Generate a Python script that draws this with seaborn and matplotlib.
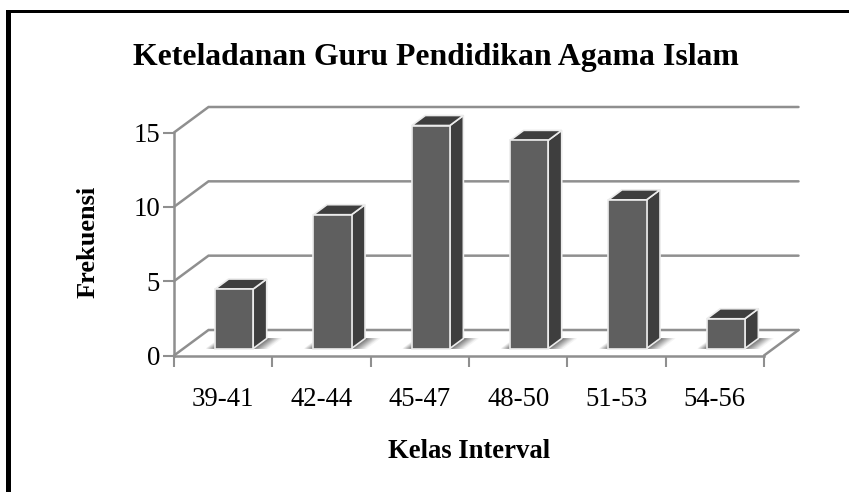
import numpy as np
import matplotlib
matplotlib.use("Agg")
import matplotlib.pyplot as plt
import seaborn as sns
from matplotlib.colors import to_rgb
from matplotlib.patches import Polygon, Rectangle

categories = ["39-41", "42-44", "45-47", "48-50", "51-53", "54-56"]
frequencies = [4, 9, 15, 14, 10, 2]
y_ticks = [0, 5, 10, 15]

W, H = 849, 492
GRID = "#8f8f8f"
FRONT = "#5f5f5f"
DARK = "#3e3e3e"
EDGE = "#ececec"

sns.set_theme(style="white")
plt.rcParams["font.family"] = ["Liberation Serif", "DejaVu Serif"]

fig = plt.figure(figsize=(W / 100, H / 100), dpi=100, facecolor="white")
# front plane of the fake 3d box, in pixels
left, right, top, bottom = 174, 764, 132.5, 355.5
ax = fig.add_axes([left / W, 1 - bottom / H, (right - left) / W, (bottom - top) / H])

sns.barplot(x=categories, y=frequencies, color=FRONT, saturation=1, width=0.387,
            edgecolor=EDGE, linewidth=1.2, ax=ax, zorder=5)
ax.set_xlim(-0.5, 5.5)
ax.set_ylim(0, 15)

# pixel to data units
px = 6 / (right - left)
py = 15 / (bottom - top)
dx, dy = 34.5 * px, 25.5 * py
bar_dx, bar_dy = 13.5 * px, 10 * py
shift_x, shift_y = 11 * px, 7 * py

# walls
for v in y_ticks:
    ax.plot([-0.5, -0.5 + dx, 5.5 + dx], [v, v + dy, v + dy], color=GRID, lw=1.8,
            clip_on=False, zorder=1, solid_joinstyle="miter")
ax.plot([5.5, 5.5 + dx], [0, dy], color=GRID, lw=1.8, clip_on=False, zorder=1)

shadow = np.array(to_rgb("#6a6a6a"))
white = np.ones(3)

# fake depth on each bar, taken from the patches seaborn drew
for bar in ax.patches[:]:
    h = bar.get_height()
    bar.set_x(bar.get_x() + shift_x)
    bar.set_y(shift_y)
    bar.set_clip_on(False)
    x0, x1 = bar.get_x(), bar.get_x() + bar.get_width()
    y0, y1 = shift_y, shift_y + h
    side = [(x1, y0), (x1 + bar_dx, y0 + bar_dy), (x1 + bar_dx, y1 + bar_dy), (x1, y1)]
    cap = [(x0, y1), (x0 + bar_dx, y1 + bar_dy), (x1 + bar_dx, y1 + bar_dy), (x1, y1)]
    ax.add_patch(Polygon(side, fc=DARK, ec=EDGE, lw=1.2, clip_on=False, zorder=4))
    ax.add_patch(Polygon(cap, fc=DARK, ec=EDGE, lw=1.2, clip_on=False, zorder=4))
    # soft shadow on the floor, fading out either side of the bar
    sx0, sx1 = x0 - 10 * px, x1 + 15 * px
    edges = np.linspace(sx0, sx1, 61)
    for a, b in zip(edges[:-1], edges[1:]):
        fade = min((a - sx0) / (10 * px), (sx1 - a) / (15 * px), 1)
        col = white + (shadow - white) * max(fade, 0)
        ax.add_patch(Polygon([(a, y0), (a + bar_dx, y0 + bar_dy), (b + bar_dx, y0 + bar_dy), (b, y0)],
                             fc=col, ec=col, lw=0.3, clip_on=False, zorder=2))

# axis lines and ticks
sns.despine(ax=ax, top=True, right=True)
for s in ["left", "bottom"]:
    ax.spines[s].set_color(GRID)
    ax.spines[s].set_linewidth(1.8)
    ax.spines[s].set_zorder(6)
ax.set_yticks(y_ticks)
ax.set_xticks(np.arange(7) - 0.5)
ax.set_xticks(np.arange(6), labels=categories, minor=True)
ax.tick_params(axis="both", which="major", length=8, width=1.5, color=GRID, left=True, bottom=True)
ax.tick_params(axis="x", which="major", labelbottom=False)
ax.tick_params(axis="x", which="minor", length=0, pad=22.5, labelsize=19.3, labelcolor="black", bottom=False)
ax.tick_params(axis="y", labelsize=19.3, labelcolor="black", pad=2)

ax.set_xlabel("")
fig.text(469 / W, 1 - 452 / H, "Kelas Interval", ha="center", va="center",
         fontsize=19.2, fontweight="bold", color="black")
fig.text(88 / W, 1 - 242 / H, "Frekuensi", ha="center", va="center", rotation=90,
         fontsize=19, fontweight="bold", color="black")
fig.text(435.5 / W, 1 - 57 / H, "Keteladanan Guru Pendidikan Agama Islam", ha="center", va="center",
         fontsize=22.9, fontweight="bold", color="black")

# black frame, open on the right and at the bottom of the crop
fig.add_artist(Rectangle((6 / W, 0), 5 / W, 1 - 10 / H, transform=fig.transFigure, fc="black", ec="none"))
fig.add_artist(Rectangle((6 / W, 1 - 13 / H), 843 / W, 3 / H, transform=fig.transFigure, fc="black", ec="none"))

fig.savefig("out.png", dpi=100, facecolor="white")
